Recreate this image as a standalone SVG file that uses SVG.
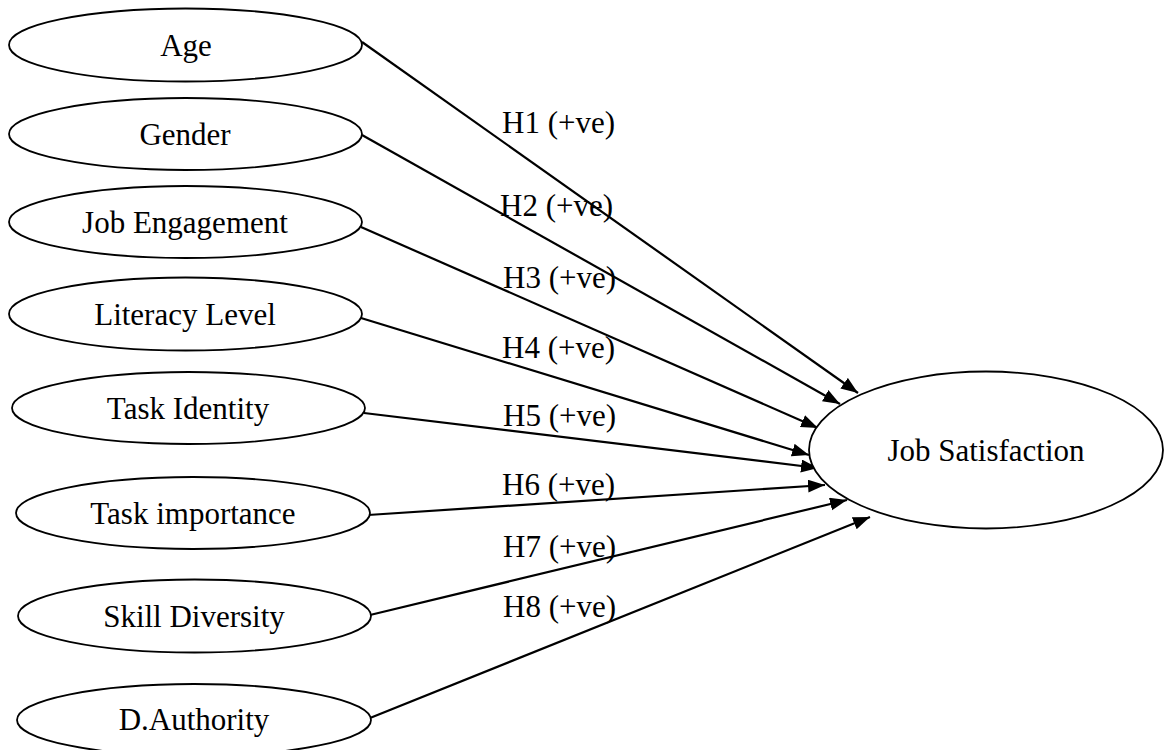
<svg xmlns="http://www.w3.org/2000/svg" width="1168" height="750" viewBox="0 0 1168 750">
<style>
.node ellipse{fill:#fff;stroke:#000;stroke-width:1.8}
.node text{font-family:"Liberation Serif","Times New Roman",serif;font-size:31px;fill:#000;text-anchor:middle}
.lbl{font-family:"Liberation Serif","Times New Roman",serif;font-size:31px;fill:#000}
#connectors line{stroke:#000;stroke-width:2.2;marker-end:url(#arrow)}
</style>
<defs>
<marker id="arrow" markerUnits="userSpaceOnUse" markerWidth="18" markerHeight="14" refX="17" refY="6.5" orient="auto">
<path d="M0,0 L17,6.5 L0,13 z" fill="#000"/>
</marker>
</defs>
<rect width="1168" height="750" fill="#fff"/>
<g id="connectors">
<line x1="362" y1="42" x2="858" y2="393"/>
<line x1="362" y1="135" x2="840" y2="404"/>
<line x1="361" y1="227" x2="818" y2="428"/>
<line x1="361" y1="318" x2="809" y2="455"/>
<line x1="364" y1="413" x2="818" y2="468"/>
<line x1="368" y1="515" x2="825" y2="485"/>
<line x1="370" y1="615" x2="847" y2="500"/>
<line x1="370" y1="718" x2="870" y2="517"/>
</g>
<g id="labels">
<text class="lbl" x="502" y="133">H1 (+ve)</text>
<text class="lbl" x="500" y="216">H2 (+ve)</text>
<text class="lbl" x="503" y="288">H3 (+ve)</text>
<text class="lbl" x="502" y="358">H4 (+ve)</text>
<text class="lbl" x="503" y="426">H5 (+ve)</text>
<text class="lbl" x="502" y="495">H6 (+ve)</text>
<text class="lbl" x="503" y="557">H7 (+ve)</text>
<text class="lbl" x="503" y="617">H8 (+ve)</text>
</g>
<g id="age" class="node"><ellipse cx="185.5" cy="45" rx="176.5" ry="36.5"/><text x="186" y="56">Age</text></g>
<g id="gender" class="node"><ellipse cx="185.5" cy="134" rx="176.5" ry="36"/><text x="185" y="145">Gender</text></g>
<g id="job-engagement" class="node"><ellipse cx="185.5" cy="222" rx="176.5" ry="36"/><text x="185" y="233">Job Engagement</text></g>
<g id="literacy-level" class="node"><ellipse cx="185.5" cy="314" rx="176.5" ry="36.5"/><text x="185" y="325">Literacy Level</text></g>
<g id="task-identity" class="node"><ellipse cx="188.5" cy="408" rx="176.5" ry="36"/><text x="188" y="419">Task Identity</text></g>
<g id="task-importance" class="node"><ellipse cx="193" cy="513" rx="177" ry="36"/><text x="193" y="524">Task importance</text></g>
<g id="skill-diversity" class="node"><ellipse cx="194.5" cy="616" rx="176.5" ry="36.5"/><text x="194" y="627">Skill Diversity</text></g>
<g id="d-authority" class="node"><ellipse cx="194" cy="720" rx="177" ry="36"/><text x="194" y="730">D.Authority</text></g>
<g id="job-satisfaction" class="node"><ellipse cx="986" cy="450" rx="177" ry="78.5"/><text x="986" y="461">Job Satisfaction</text></g>
</svg>
